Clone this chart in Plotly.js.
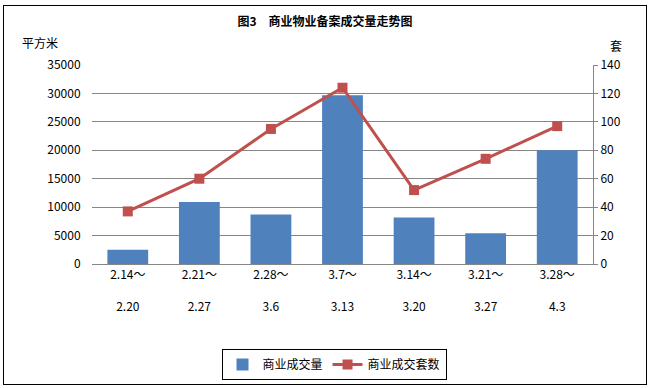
<!DOCTYPE html>
<html>
<head>
<meta charset="utf-8">
<script src="https://cdn.plot.ly/plotly-3.0.1.min.js"></script>
<style>
  html, body { margin: 0; padding: 0; background: #fff; }
  #wrap { position: relative; width: 650px; height: 388px; }
  #chart { width: 650px; height: 388px; }
  #frame { position: absolute; left: 3px; top: 5px; width: 644px; height: 380px;
           border: 1px solid #000; box-sizing: border-box; pointer-events: none; }
</style>
</head>
<body>
<div id="wrap"><div id="chart"></div><div id="frame"></div></div>
<script>
// Data
const periodStart = ["2.14～", "2.21～", "2.28～", "3.7～", "3.14～", "3.21～", "3.28～"];
const periodEnd   = ["2.20", "2.27", "3.6", "3.13", "3.20", "3.27", "4.3"];
const areaSold    = [2500, 10900, 8700, 29700, 8200, 5400, 20000];   // 平方米
const unitsSold   = [37, 60, 95, 124, 52, 74, 97];                    // 套
const leftTicks   = [0, 5000, 10000, 15000, 20000, 25000, 30000, 35000];
const rightTicks  = [0, 20, 40, 60, 80, 100, 120, 140];

const cats = periodStart.map((s, i) => s + "<br><br>" + periodEnd[i]);
const font = "'Noto Sans CJK SC', 'Liberation Sans', sans-serif";

const traces = [
  {
    type: "bar", name: "商业成交量", x: cats, y: areaSold,
    marker: { color: "#4F81BD" }, width: 0.57, yaxis: "y"
  },
  {
    type: "scatter", mode: "lines+markers", name: "商业成交套数", x: cats, y: unitsSold,
    yaxis: "y2", line: { color: "#C0504D", width: 3 },
    marker: { symbol: "square", size: 10, color: "#C0504D" }
  }
];

const layout = {
  width: 650, height: 388,
  margin: { l: 92, r: 57, t: 65, b: 124, autoexpand: false },
  paper_bgcolor: "#fff", plot_bgcolor: "#fff",
  font: { family: font, size: 12, color: "#000" },
  title: { text: "<b>图3　商业物业备案成交量走势图</b>", x: 0.5, xanchor: "center",
           y: 1 - 22 / 388, yanchor: "middle", yref: "container",
           font: { size: 12, family: font, color: "#000" } },
  showlegend: true,
  legend: {
    orientation: "h", xref: "paper", yref: "paper",
    x: (334 - 92) / 501, xanchor: "center", y: (264 - 380) / 199, yanchor: "bottom",
    bordercolor: "#000", borderwidth: 1, bgcolor: "#fff",
    font: { size: 12, family: font }, itemwidth: 30, tracegroupgap: 0
  },
  xaxis: {
    type: "category", showgrid: false, zeroline: false,
    showline: true, linecolor: "#868686", linewidth: 1,
    ticks: "", tickfont: { size: 12, family: font }, fixedrange: true
  },
  yaxis: {
    range: [0, 35000], tickvals: leftTicks, ticktext: leftTicks.map(String),
    showgrid: true, gridcolor: "#868686", gridwidth: 1, zeroline: false,
    showline: false, ticks: "outside", ticklen: 8, tickcolor: "rgba(0,0,0,0)",
    tickfont: { size: 12, family: font }
  },
  yaxis2: {
    overlaying: "y", side: "right", range: [0, 140],
    tickvals: rightTicks, ticktext: rightTicks.map(String),
    showgrid: false, zeroline: false,
    showline: true, linecolor: "#868686", linewidth: 1,
    ticks: "outside", ticklen: 4, tickcolor: "#868686",
    tickfont: { size: 12, family: font }
  },
  annotations: [
    { text: "平方米", xref: "paper", yref: "paper", x: -0.104, y: (264 - 42) / 199,
      xanchor: "center", yanchor: "middle", showarrow: false, font: { size: 12, family: font } },
    { text: "套", xref: "paper", yref: "paper", x: 1.046, y: (264 - 46) / 199,
      xanchor: "center", yanchor: "middle", showarrow: false, font: { size: 12, family: font } }
  ]
};

Plotly.newPlot("chart", traces, layout, { staticPlot: true });
</script>
</body>
</html>
